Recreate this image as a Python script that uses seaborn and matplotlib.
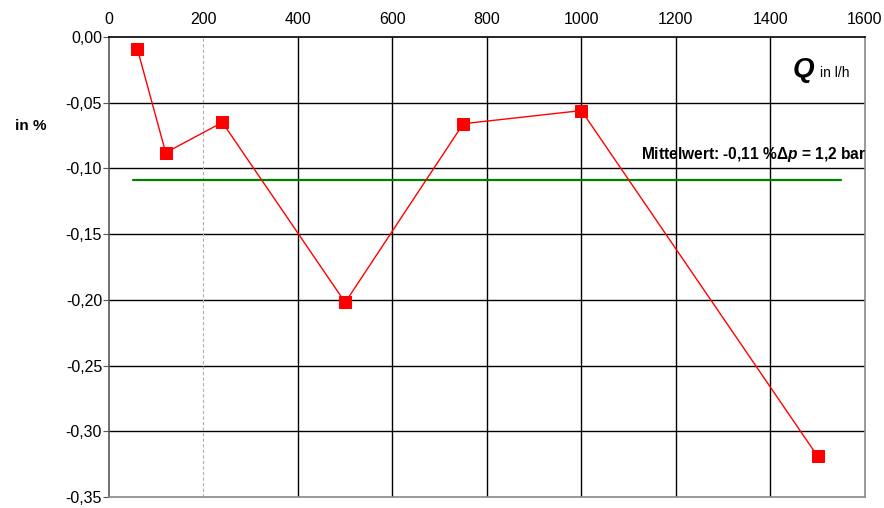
import matplotlib
matplotlib.use("Agg")
import matplotlib.pyplot as plt
import seaborn as sns
import pandas as pd

# Durchfluss Q in l/h und Messabweichung in %
flow_lph = [60, 120, 240, 500, 750, 1000, 1500]
deviation_pct = [-0.009, -0.088, -0.065, -0.202, -0.066, -0.056, -0.319]
mean_value = -0.109
mean_span = [50, 1550]

x_ticks = [0, 200, 400, 600, 800, 1000, 1200, 1400, 1600]
y_ticks = [0.00, -0.05, -0.10, -0.15, -0.20, -0.25, -0.30, -0.35]

sns.set_style("white")
plt.rcParams["font.family"] = ["Liberation Sans", "DejaVu Sans"]
plt.rcParams["text.color"] = "black"
plt.rcParams["xtick.color"] = "black"
plt.rcParams["ytick.color"] = "black"
plt.rcParams["mathtext.fontset"] = "custom"
plt.rcParams["mathtext.it"] = "Liberation Sans:bold:italic"
plt.rcParams["mathtext.rm"] = "Liberation Sans:bold"

fig = plt.figure(figsize=(8.84, 5.08), dpi=100)
ax = fig.add_axes([0.1233, 0.0217, 0.855, 0.9055])

df = pd.DataFrame({"Q": flow_lph, "dev": deviation_pct})
mean_df = pd.DataFrame({"Q": mean_span, "dev": [mean_value, mean_value]})

sns.lineplot(data=mean_df, x="Q", y="dev", ax=ax, color="#008000", linewidth=1.6, zorder=3)
sns.lineplot(data=df, x="Q", y="dev", ax=ax, color="#ff0000", linewidth=1.0,
             marker="s", markersize=9, markeredgecolor="#ff0000",
             markerfacecolor="#ff0000", zorder=4)

ax.set_xlim(0, 1600)
ax.set_ylim(-0.35, 0.0)
ax.set_xticks(x_ticks)
ax.set_yticks(y_ticks)
ax.set_yticklabels([f"{v:.2f}".replace(".", ",") for v in y_ticks])
ax.xaxis.tick_top()
ax.tick_params(axis="x", top=False, bottom=False, labelsize=11.5, labelcolor="black", pad=4)
ax.tick_params(axis="y", left=True, length=4, color="#555555", labelsize=11.5,
               labelcolor="black", pad=1)
ax.set_xlabel("")
ax.set_ylabel("")

# Gitterlinien
for v in y_ticks[1:-1]:
    ax.axhline(v, color="black", linewidth=1.0, zorder=1)
for v in x_ticks[1:-1]:
    if v == 200:
        ax.axvline(v, color="#b0b0b0", linewidth=0.8, linestyle=(0, (3, 2)), zorder=1)
    else:
        ax.axvline(v, color="black", linewidth=1.0, zorder=1)

for side, col in [("left", "#555555"), ("bottom", "#888888"), ("right", "#888888"), ("top", "black")]:
    ax.spines[side].set_visible(True)
    ax.spines[side].set_color(col)
    ax.spines[side].set_linewidth(1.2)

ax.text(1495, -0.0305, "$Q$", fontsize=20, ha="right", va="baseline")
ax.text(1506, -0.0305, "in l/h", fontsize=10, ha="left", va="baseline")
fig.text(0.017, 0.752, "in %", fontsize=11, fontweight="bold", ha="left", va="center")
ax.text(1603, -0.093, "Mittelwert: -0,11 %Δ$p$ = 1,2 bar", fontsize=11.2,
        fontweight="bold", ha="right", va="baseline")

fig.savefig("out.png", dpi=100)
